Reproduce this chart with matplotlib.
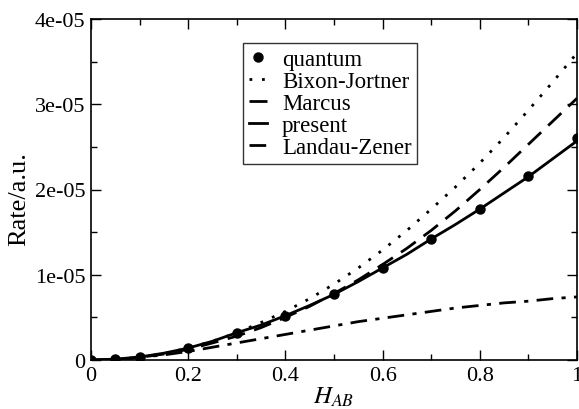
import matplotlib
matplotlib.use("Agg")
import matplotlib.pyplot as plt
from matplotlib.ticker import MultipleLocator, FixedLocator

plt.rcParams['font.family'] = ['Liberation Serif', 'DejaVu Serif']
plt.rcParams['mathtext.fontset'] = 'stix'

# Data (rates in units of 1e-5 a.u.)
h_quantum = [0.0, 0.05, 0.1, 0.2, 0.3, 0.4, 0.5, 0.6, 0.7, 0.8, 0.9, 1.0]
rate_quantum = [0.0, 0.01, 0.035, 0.14, 0.32, 0.52, 0.77, 1.08, 1.42, 1.77, 2.16, 2.60]

h_curve = [0.0, 0.05, 0.1, 0.15, 0.2, 0.25, 0.3, 0.35, 0.4, 0.45, 0.5, 0.55, 0.6, 0.65, 0.7, 0.75, 0.8, 0.85, 0.9, 0.95, 1.0]
rate_bj = [0.0, 0.005, 0.03, 0.075, 0.14, 0.22, 0.32, 0.44, 0.57, 0.72, 0.89, 1.08, 1.29, 1.52, 1.77, 2.03, 2.31, 2.61, 2.93, 3.26, 3.60]
rate_marcus = [0.0, 0.005, 0.03, 0.07, 0.125, 0.2, 0.28, 0.38, 0.50, 0.63, 0.78, 0.94, 1.12, 1.31, 1.52, 1.75, 2.00, 2.26, 2.53, 2.80, 3.07]
rate_present = [0.0, 0.01, 0.035, 0.08, 0.14, 0.22, 0.32, 0.41, 0.52, 0.64, 0.77, 0.92, 1.08, 1.24, 1.42, 1.59, 1.77, 1.96, 2.15, 2.36, 2.57]
rate_lz = [0.0, 0.005, 0.03, 0.06, 0.10, 0.15, 0.20, 0.25, 0.30, 0.35, 0.40, 0.45, 0.49, 0.53, 0.57, 0.61, 0.64, 0.67, 0.69, 0.72, 0.74]

scale = 1e-5

fig = plt.figure(figsize=(5.79, 4.10), dpi=100)
ax = fig.add_axes([91/579, 1 - 361/410, (577-91)/579, (361-20)/410])

ax.plot(h_quantum, [v*scale for v in rate_quantum], 'o', color='black', ms=6.5, label='quantum', zorder=5)
ax.plot(h_curve, [v*scale for v in rate_bj], color='black', lw=2, linestyle=(0, (1, 3.5)), label='Bixon-Jortner')
ax.plot(h_curve, [v*scale for v in rate_marcus], color='black', lw=2, linestyle=(0, (6.5, 3.5)), label='Marcus')
ax.plot(h_curve, [v*scale for v in rate_present], color='black', lw=2, linestyle='-', label='present')
ax.plot(h_curve, [v*scale for v in rate_lz], color='black', lw=2, linestyle=(0, (6, 3, 1.5, 3)), label='Landau-Zener')

ax.set_xlim(0, 1)
ax.set_ylim(0, 4e-5)
ax.xaxis.set_major_locator(FixedLocator([0, 0.2, 0.4, 0.6, 0.8, 1.0]))
ax.xaxis.set_minor_locator(MultipleLocator(0.1))
ax.yaxis.set_major_locator(FixedLocator([0, 1e-5, 2e-5, 3e-5, 4e-5]))
ax.yaxis.set_minor_locator(MultipleLocator(0.5e-5))
ax.set_xticklabels(['0', '0.2', '0.4', '0.6', '0.8', '1'])
ax.set_yticklabels(['0', '1e-05', '2e-05', '3e-05', '4e-05'])
ax.tick_params(which='both', direction='in', top=True, right=True, labelsize=16, width=1)
ax.tick_params(which='major', length=7, pad=4)
ax.tick_params(which='minor', length=4)
for s in ax.spines.values():
    s.set_linewidth(1.2)

ax.set_xlabel(r'$H_{AB}$', fontsize=18, labelpad=0)
ax.set_ylabel('Rate/a.u.', fontsize=19)
ax.yaxis.set_label_coords(-0.125, 0.475)

leg = ax.legend(loc='upper left', bbox_to_anchor=(0.313, 0.93), fontsize=16.5, frameon=True,
                fancybox=False, edgecolor='black', handlelength=0.8, handletextpad=0.65,
                labelspacing=0.05, borderpad=0.25, borderaxespad=0)
leg.get_frame().set_linewidth(1.0)

fig.savefig('out.png', dpi=100)
